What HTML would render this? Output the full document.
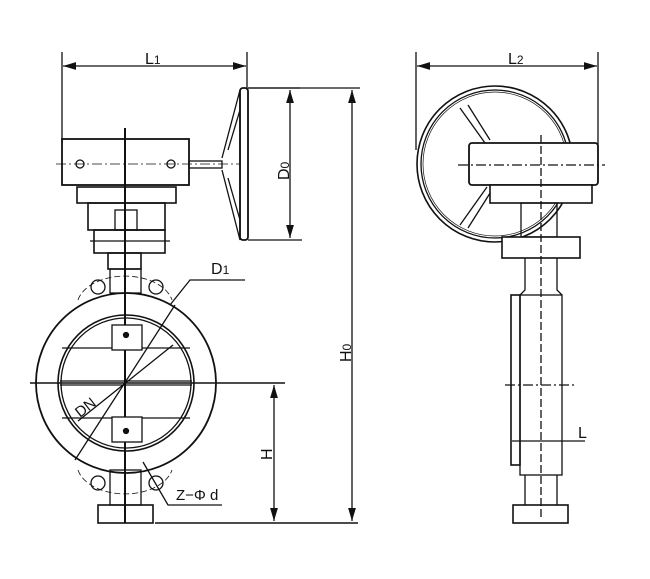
<!DOCTYPE html>
<html><head><meta charset="utf-8"><style>html,body{margin:0;padding:0;background:#fff}svg{display:block}text{font-family:"Liberation Sans",sans-serif;fill:#111}</style></head>
<body>
<svg width="650" height="579" viewBox="0 0 650 579" xmlns="http://www.w3.org/2000/svg" stroke="#111" fill="none" stroke-width="1.3">
<defs><marker id="a" viewBox="0 0 10 6" refX="10" refY="3" markerWidth="10" markerHeight="6" orient="auto-start-reverse"><path d="M0,0 L10,3 L0,6z" fill="#111" stroke="none"/></marker></defs>
<!-- LEFT VIEW -->
<line x1="62" y1="52" x2="62" y2="143"/><line x1="247" y1="52" x2="247" y2="90"/>
<line x1="63" y1="66" x2="246" y2="66" marker-start="url(#a)" marker-end="url(#a)"/>
<text x="145" y="64" font-size="16" stroke="none">L<tspan font-size="12">1</tspan></text>
<rect x="62" y="139" width="127" height="46" stroke-width="1.8"/>
<line x1="56" y1="164" x2="240" y2="164" stroke-dasharray="10,3,2,3" stroke-width="0.8"/>
<circle cx="80" cy="164" r="4"/><circle cx="171" cy="164" r="4"/>
<rect x="189" y="161" width="33" height="7"/>
<path d="M222,158 L240,90 L240,240 L222,170"/>
<path d="M228,150 L240,110 M228,178 L240,220"/>
<rect x="240" y="88" width="8" height="152" rx="3" stroke-width="1.8"/>
<line x1="248" y1="88" x2="300" y2="88"/><line x1="248" y1="240" x2="302" y2="240"/>
<line x1="290" y1="90" x2="290" y2="238" marker-start="url(#a)" marker-end="url(#a)"/>
<text transform="translate(289,180) rotate(-90)" font-size="16" stroke="none">D<tspan font-size="12">0</tspan></text>
<line x1="248" y1="88" x2="360" y2="88"/>
<line x1="352" y1="90" x2="352" y2="521" marker-start="url(#a)" marker-end="url(#a)"/>
<text transform="translate(351,362) rotate(-90)" font-size="16" stroke="none">H<tspan font-size="12">0</tspan></text>
<rect x="77" y="187" width="99" height="16" stroke-width="1.6"/>
<rect x="88" y="203" width="77" height="27" stroke-width="1.6"/>
<rect x="94" y="230" width="71" height="23" stroke-width="1.6"/>
<line x1="90" y1="241" x2="170" y2="241"/>
<rect x="108" y="253" width="33" height="16" stroke-width="1.6"/>
<rect x="115" y="210" width="22" height="20"/>
<line x1="125" y1="128" x2="125" y2="523" stroke-width="2"/>
<path d="M78,300 A48,30 0 0 1 172,300" stroke-dasharray="6,3" stroke-width="0.8"/>
<path d="M78,470 A48,30 0 0 0 172,470" stroke-dasharray="6,3" stroke-width="0.8"/>
<circle cx="98" cy="287" r="7"/><circle cx="156" cy="287" r="7"/>
<circle cx="98" cy="483" r="7"/><circle cx="156" cy="483" r="7"/>
<rect x="110" y="269" width="31" height="24"/><rect x="110" y="470" width="31" height="35"/>
<circle cx="126" cy="383" r="90" stroke-width="1.8"/>
<circle cx="126" cy="383" r="68" stroke-width="1.6"/><circle cx="126" cy="383" r="65"/>
<line x1="62" y1="348" x2="190" y2="348"/><line x1="62" y1="418" x2="190" y2="418"/>
<line x1="60" y1="381" x2="192" y2="381"/><line x1="60" y1="385" x2="192" y2="385"/>
<rect x="112" y="325" width="30" height="25" fill="#fff"/><rect x="112" y="417" width="30" height="25" fill="#fff"/>
<circle cx="126" cy="335" r="2.5" fill="#111"/><circle cx="126" cy="431" r="2.5" fill="#111"/>
<line x1="30" y1="383" x2="285" y2="383" stroke-width="1.6"/>
<line x1="75" y1="460" x2="175" y2="305"/>
<line x1="78" y1="421" x2="173" y2="345"/>
<path d="M170,305 L190,280 L245,280"/>
<text x="211" y="274" font-size="16" stroke="none">D<tspan font-size="12">1</tspan></text>
<text transform="translate(80,418) rotate(-38)" font-size="15" stroke="none">DN</text>
<path d="M143,462 L168,505 L222,505"/>
<text x="176" y="500" font-size="15" stroke="none">Z−Φ d</text>
<rect x="98" y="505" width="55" height="18" stroke-width="1.6"/>
<line x1="155" y1="523" x2="358" y2="523" stroke-width="1.6"/>
<line x1="274" y1="385" x2="274" y2="521" marker-start="url(#a)" marker-end="url(#a)"/>
<text transform="translate(272,460) rotate(-90)" font-size="16" stroke="none">H</text>
<!-- RIGHT VIEW -->
<line x1="416" y1="52" x2="416" y2="150"/><line x1="598" y1="52" x2="598" y2="145"/>
<line x1="417" y1="66" x2="597" y2="66" marker-start="url(#a)" marker-end="url(#a)"/>
<text x="508" y="64" font-size="16" stroke="none">L<tspan font-size="12">2</tspan></text>
<circle cx="495" cy="164" r="78" stroke-width="1.6"/><circle cx="495" cy="164" r="74"/><circle cx="495" cy="164" r="72" stroke-width="0.7"/>
<line x1="460" y1="108" x2="485" y2="143"/><line x1="468" y1="105" x2="490" y2="140"/>
<line x1="460" y1="225" x2="487" y2="187"/><line x1="468" y1="228" x2="492" y2="190"/>
<rect x="469" y="143" width="129" height="42" rx="3" stroke-width="1.8" fill="#fff"/>
<line x1="458" y1="165" x2="605" y2="165" stroke-dasharray="10,3,2,3"/>
<rect x="490" y="185" width="102" height="18" stroke-width="1.6" fill="#fff"/>
<rect x="521" y="203" width="36" height="34"/>
<rect x="502" y="237" width="78" height="21" stroke-width="1.6" fill="#fff"/>
<path d="M525,258 L525,290 L520,295 M557,258 L557,290 L562,295"/>
<rect x="520" y="295" width="42" height="180" stroke-width="1.3"/>
<rect x="511" y="295" width="9" height="170" stroke-width="1.6"/>
<line x1="541" y1="135" x2="541" y2="520" stroke-dasharray="8,3"/>
<line x1="505" y1="385" x2="575" y2="385" stroke-dasharray="10,3,2,3"/>
<path d="M525,475 L525,505 M557,475 L557,505"/>
<rect x="513" y="505" width="55" height="18" stroke-width="1.6"/>
<line x1="512" y1="441" x2="585" y2="441"/>
<text x="578" y="438" font-size="16" stroke="none">L</text>
</svg>
</body></html>
